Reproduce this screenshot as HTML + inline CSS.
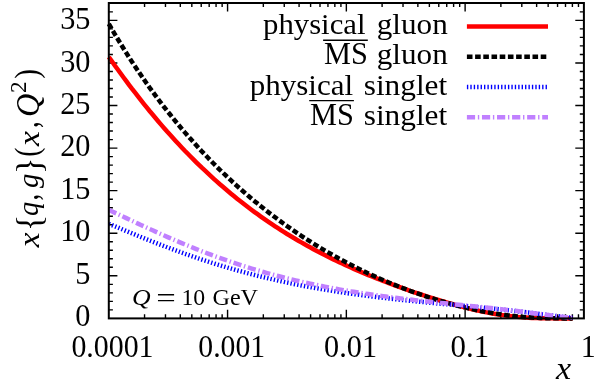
<!DOCTYPE html>
<html><head><meta charset="utf-8"><title>plot</title>
<style>html,body{margin:0;padding:0;background:#fff;}svg{display:block;will-change:transform;}</style>
</head><body>
<svg width="598" height="382" viewBox="0 0 598 382">
<rect x="0" y="0" width="598" height="382" fill="#ffffff"/>
<path d="M144.55,318.4v-4.1M144.55,3.0v4.1M165.47,318.4v-4.1M165.47,3.0v4.1M180.31,318.4v-4.1M180.31,3.0v4.1M191.82,318.4v-4.1M191.82,3.0v4.1M201.22,318.4v-4.1M201.22,3.0v4.1M209.18,318.4v-4.1M209.18,3.0v4.1M216.06,318.4v-4.1M216.06,3.0v4.1M222.14,318.4v-4.1M222.14,3.0v4.1M227.57,318.4v-8.6M227.57,3.0v8.6M263.33,318.4v-4.1M263.33,3.0v4.1M284.25,318.4v-4.1M284.25,3.0v4.1M299.08,318.4v-4.1M299.08,3.0v4.1M310.60,318.4v-4.1M310.60,3.0v4.1M320.00,318.4v-4.1M320.00,3.0v4.1M327.95,318.4v-4.1M327.95,3.0v4.1M334.84,318.4v-4.1M334.84,3.0v4.1M340.92,318.4v-4.1M340.92,3.0v4.1M346.35,318.4v-8.6M346.35,3.0v8.6M382.10,318.4v-4.1M382.10,3.0v4.1M403.02,318.4v-4.1M403.02,3.0v4.1M417.86,318.4v-4.1M417.86,3.0v4.1M429.37,318.4v-4.1M429.37,3.0v4.1M438.77,318.4v-4.1M438.77,3.0v4.1M446.73,318.4v-4.1M446.73,3.0v4.1M453.61,318.4v-4.1M453.61,3.0v4.1M459.69,318.4v-4.1M459.69,3.0v4.1M465.12,318.4v-8.6M465.12,3.0v8.6M500.88,318.4v-4.1M500.88,3.0v4.1M521.80,318.4v-4.1M521.80,3.0v4.1M536.63,318.4v-4.1M536.63,3.0v4.1M548.15,318.4v-4.1M548.15,3.0v4.1M557.55,318.4v-4.1M557.55,3.0v4.1M565.50,318.4v-4.1M565.50,3.0v4.1M572.39,318.4v-4.1M572.39,3.0v4.1M578.47,318.4v-4.1M578.47,3.0v4.1M108.8,309.88h4.1M583.9,309.88h-4.1M108.8,301.37h4.1M583.9,301.37h-4.1M108.8,292.85h4.1M583.9,292.85h-4.1M108.8,284.34h4.1M583.9,284.34h-4.1M108.8,275.82h8.6M583.9,275.82h-8.6M108.8,267.31h4.1M583.9,267.31h-4.1M108.8,258.79h4.1M583.9,258.79h-4.1M108.8,250.28h4.1M583.9,250.28h-4.1M108.8,241.76h4.1M583.9,241.76h-4.1M108.8,233.25h8.6M583.9,233.25h-8.6M108.8,224.73h4.1M583.9,224.73h-4.1M108.8,216.22h4.1M583.9,216.22h-4.1M108.8,207.70h4.1M583.9,207.70h-4.1M108.8,199.19h4.1M583.9,199.19h-4.1M108.8,190.67h8.6M583.9,190.67h-8.6M108.8,182.16h4.1M583.9,182.16h-4.1M108.8,173.64h4.1M583.9,173.64h-4.1M108.8,165.13h4.1M583.9,165.13h-4.1M108.8,156.61h4.1M583.9,156.61h-4.1M108.8,148.10h8.6M583.9,148.10h-8.6M108.8,139.58h4.1M583.9,139.58h-4.1M108.8,131.07h4.1M583.9,131.07h-4.1M108.8,122.55h4.1M583.9,122.55h-4.1M108.8,114.04h4.1M583.9,114.04h-4.1M108.8,105.52h8.6M583.9,105.52h-8.6M108.8,97.01h4.1M583.9,97.01h-4.1M108.8,88.49h4.1M583.9,88.49h-4.1M108.8,79.98h4.1M583.9,79.98h-4.1M108.8,71.46h4.1M583.9,71.46h-4.1M108.8,62.95h8.6M583.9,62.95h-8.6M108.8,54.43h4.1M583.9,54.43h-4.1M108.8,45.92h4.1M583.9,45.92h-4.1M108.8,37.40h4.1M583.9,37.40h-4.1M108.8,28.89h4.1M583.9,28.89h-4.1M108.8,20.37h8.6M583.9,20.37h-8.6M108.8,11.86h4.1M583.9,11.86h-4.1M108.8,3.34h4.1M583.9,3.34h-4.1" stroke="#000" stroke-width="1.4" fill="none"/>
<path d="M108.8,56.92 L111.7,61.08 L114.6,65.19 L117.6,69.26 L120.5,73.29 L123.4,77.26 L126.3,81.20 L129.2,85.08 L132.1,88.93 L135.1,92.72 L138.0,96.47 L140.9,100.18 L143.8,103.84 L146.7,107.46 L149.6,111.03 L152.6,114.56 L155.5,118.04 L158.4,121.48 L161.3,124.88 L164.2,128.23 L167.1,131.54 L170.1,134.80 L173.0,138.02 L175.9,141.20 L178.8,144.34 L181.7,147.44 L184.6,150.49 L187.6,153.50 L190.5,156.47 L193.4,159.40 L196.3,162.29 L199.2,165.14 L202.1,167.95 L205.1,170.71 L208.0,173.44 L210.9,176.13 L213.8,178.79 L216.7,181.40 L219.6,183.98 L222.6,186.52 L225.5,189.02 L228.4,191.48 L231.3,193.91 L234.2,196.31 L237.1,198.66 L240.1,200.99 L243.0,203.27 L245.9,205.53 L248.8,207.75 L251.7,209.93 L254.6,212.09 L257.6,214.21 L260.5,216.30 L263.4,218.35 L266.3,220.38 L269.2,222.37 L272.2,224.34 L275.1,226.27 L278.0,228.18 L280.9,230.06 L283.8,231.90 L286.7,233.72 L289.7,235.51 L292.6,237.28 L295.5,239.02 L298.4,240.73 L301.3,242.41 L304.2,244.07 L307.2,245.71 L310.1,247.32 L313.0,248.91 L315.9,250.47 L318.8,252.01 L321.7,253.53 L324.7,255.02 L327.6,256.49 L330.5,257.94 L333.4,259.37 L336.3,260.78 L339.2,262.17 L342.2,263.54 L345.1,264.89 L348.0,266.23 L350.9,267.54 L353.8,268.83 L356.7,270.11 L359.7,271.37 L362.6,272.62 L365.5,273.84 L368.4,275.05 L371.3,276.25 L374.2,277.43 L377.2,278.60 L380.1,279.75 L383.0,280.88 L385.9,282.00 L388.8,283.11 L391.7,284.21 L394.7,285.29 L397.6,286.36 L400.5,287.41 L403.4,288.46 L406.3,289.49 L409.2,290.51 L412.2,291.51 L415.1,292.51 L418.0,293.49 L420.9,294.46 L423.8,295.41 L426.8,296.36 L429.7,297.29 L432.6,298.21 L435.5,299.12 L438.4,300.01 L441.3,300.89 L444.3,301.76 L447.2,302.61 L450.1,303.44 L453.0,304.27 L455.9,305.07 L458.8,305.86 L461.8,306.63 L464.7,307.39 L467.6,308.12 L470.5,308.84 L473.4,309.53 L476.3,310.20 L479.3,310.85 L482.2,311.48 L485.1,312.08 L488.0,312.66 L490.9,313.21 L493.8,313.73 L496.8,314.23 L499.7,314.70 L502.6,315.14 L505.5,315.54 L508.4,315.92 L511.3,316.27 L514.3,316.58 L517.2,316.87 L520.1,317.13 L523.0,317.36 L525.9,317.56 L528.8,317.73 L531.8,317.88 L534.7,318.00 L537.6,318.10 L540.5,318.18 L543.4,318.25 L546.3,318.30 L549.3,318.33 L552.2,318.36 L555.1,318.38 L558.0,318.39 L560.9,318.39 L563.8,318.40 L566.8,318.40 L569.7,318.40 L572.6,318.40" stroke="#ff0000" stroke-width="4.5" fill="none"/>
<path d="M108.8,23.86 L111.7,28.91 L114.6,33.87 L117.6,38.76 L120.5,43.56 L123.4,48.28 L126.3,52.93 L129.2,57.50 L132.1,62.00 L135.1,66.43 L138.0,70.79 L140.9,75.08 L143.8,79.30 L146.7,83.46 L149.6,87.56 L152.6,91.59 L155.5,95.56 L158.4,99.47 L161.3,103.32 L164.2,107.12 L167.1,110.85 L170.1,114.54 L173.0,118.17 L175.9,121.74 L178.8,125.26 L181.7,128.73 L184.6,132.15 L187.6,135.53 L190.5,138.85 L193.4,142.12 L196.3,145.35 L199.2,148.53 L202.1,151.67 L205.1,154.76 L208.0,157.81 L210.9,160.82 L213.8,163.78 L216.7,166.70 L219.6,169.58 L222.6,172.42 L225.5,175.23 L228.4,177.99 L231.3,180.71 L234.2,183.40 L237.1,186.05 L240.1,188.66 L243.0,191.23 L245.9,193.77 L248.8,196.28 L251.7,198.74 L254.6,201.18 L257.6,203.58 L260.5,205.95 L263.4,208.28 L266.3,210.59 L269.2,212.86 L272.2,215.09 L275.1,217.30 L278.0,219.48 L280.9,221.62 L283.8,223.74 L286.7,225.83 L289.7,227.88 L292.6,229.91 L295.5,231.91 L298.4,233.88 L301.3,235.82 L304.2,237.74 L307.2,239.62 L310.1,241.48 L313.0,243.32 L315.9,245.12 L318.8,246.90 L321.7,248.66 L324.7,250.39 L327.6,252.09 L330.5,253.77 L333.4,255.42 L336.3,257.05 L339.2,258.66 L342.2,260.24 L345.1,261.80 L348.0,263.33 L350.9,264.84 L353.8,266.33 L356.7,267.79 L359.7,269.23 L362.6,270.65 L365.5,272.05 L368.4,273.43 L371.3,274.78 L374.2,276.11 L377.2,277.42 L380.1,278.71 L383.0,279.98 L385.9,281.23 L388.8,282.46 L391.7,283.67 L394.7,284.85 L397.6,286.02 L400.5,287.17 L403.4,288.29 L406.3,289.40 L409.2,290.49 L412.2,291.55 L415.1,292.60 L418.0,293.63 L420.9,294.64 L423.8,295.63 L426.8,296.60 L429.7,297.55 L432.6,298.48 L435.5,299.39 L438.4,300.28 L441.3,301.16 L444.3,302.01 L447.2,302.84 L450.1,303.65 L453.0,304.45 L455.9,305.22 L458.8,305.97 L461.8,306.71 L464.7,307.42 L467.6,308.11 L470.5,308.78 L473.4,309.42 L476.3,310.05 L479.3,310.65 L482.2,311.23 L485.1,311.79 L488.0,312.33 L490.9,312.84 L493.8,313.33 L496.8,313.80 L499.7,314.24 L502.6,314.66 L505.5,315.06 L508.4,315.43 L511.3,315.77 L514.3,316.09 L517.2,316.39 L520.1,316.67 L523.0,316.92 L525.9,317.14 L528.8,317.35 L531.8,317.53 L534.7,317.69 L537.6,317.83 L540.5,317.95 L543.4,318.06 L546.3,318.14 L549.3,318.21 L552.2,318.27 L555.1,318.31 L558.0,318.34 L560.9,318.36 L563.8,318.38 L566.8,318.39 L569.7,318.40 L572.6,318.40" stroke="#000000" stroke-width="4.5" fill="none" stroke-dasharray="5.60,2.60"/>
<path d="M108.8,223.73 L111.7,224.95 L114.6,226.17 L117.6,227.39 L120.5,228.60 L123.4,229.81 L126.3,231.02 L129.2,232.22 L132.1,233.42 L135.1,234.61 L138.0,235.80 L140.9,236.98 L143.8,238.15 L146.7,239.31 L149.6,240.47 L152.6,241.62 L155.5,242.76 L158.4,243.89 L161.3,245.02 L164.2,246.13 L167.1,247.23 L170.1,248.33 L173.0,249.41 L175.9,250.48 L178.8,251.55 L181.7,252.60 L184.6,253.64 L187.6,254.67 L190.5,255.69 L193.4,256.69 L196.3,257.69 L199.2,258.67 L202.1,259.64 L205.1,260.60 L208.0,261.54 L210.9,262.48 L213.8,263.40 L216.7,264.31 L219.6,265.20 L222.6,266.09 L225.5,266.96 L228.4,267.82 L231.3,268.67 L234.2,269.50 L237.1,270.33 L240.1,271.14 L243.0,271.93 L245.9,272.72 L248.8,273.49 L251.7,274.25 L254.6,275.00 L257.6,275.74 L260.5,276.47 L263.4,277.18 L266.3,277.88 L269.2,278.57 L272.2,279.25 L275.1,279.92 L278.0,280.57 L280.9,281.21 L283.8,281.85 L286.7,282.47 L289.7,283.08 L292.6,283.68 L295.5,284.27 L298.4,284.85 L301.3,285.42 L304.2,285.98 L307.2,286.53 L310.1,287.07 L313.0,287.60 L315.9,288.12 L318.8,288.63 L321.7,289.13 L324.7,289.62 L327.6,290.10 L330.5,290.58 L333.4,291.04 L336.3,291.50 L339.2,291.95 L342.2,292.39 L345.1,292.82 L348.0,293.25 L350.9,293.66 L353.8,294.07 L356.7,294.47 L359.7,294.87 L362.6,295.26 L365.5,295.64 L368.4,296.01 L371.3,296.38 L374.2,296.74 L377.2,297.10 L380.1,297.45 L383.0,297.79 L385.9,298.13 L388.8,298.46 L391.7,298.79 L394.7,299.11 L397.6,299.43 L400.5,299.75 L403.4,300.05 L406.3,300.36 L409.2,300.66 L412.2,300.96 L415.1,301.25 L418.0,301.54 L420.9,301.83 L423.8,302.11 L426.8,302.39 L429.7,302.67 L432.6,302.95 L435.5,303.22 L438.4,303.50 L441.3,303.77 L444.3,304.04 L447.2,304.31 L450.1,304.58 L453.0,304.84 L455.9,305.11 L458.8,305.38 L461.8,305.65 L464.7,305.92 L467.6,306.19 L470.5,306.46 L473.4,306.73 L476.3,307.01 L479.3,307.28 L482.2,307.56 L485.1,307.85 L488.0,308.13 L490.9,308.42 L493.8,308.71 L496.8,309.01 L499.7,309.31 L502.6,309.61 L505.5,309.93 L508.4,310.24 L511.3,310.56 L514.3,310.89 L517.2,311.22 L520.1,311.56 L523.0,311.90 L525.9,312.25 L528.8,312.60 L531.8,312.96 L534.7,313.32 L537.6,313.69 L540.5,314.06 L543.4,314.44 L546.3,314.81 L549.3,315.19 L552.2,315.56 L555.1,315.93 L558.0,316.29 L560.9,316.64 L563.8,316.98 L566.8,317.29 L569.7,317.59 L572.6,317.85" stroke="#0000ff" stroke-width="4.5" fill="none" stroke-dasharray="1.37,2.05"/>
<path d="M108.8,209.86 L111.7,211.24 L114.6,212.61 L117.6,213.99 L120.5,215.37 L123.4,216.74 L126.3,218.12 L129.2,219.49 L132.1,220.86 L135.1,222.23 L138.0,223.59 L140.9,224.94 L143.8,226.29 L146.7,227.64 L149.6,228.97 L152.6,230.30 L155.5,231.62 L158.4,232.94 L161.3,234.24 L164.2,235.53 L167.1,236.82 L170.1,238.09 L173.0,239.36 L175.9,240.61 L178.8,241.85 L181.7,243.08 L184.6,244.29 L187.6,245.50 L190.5,246.69 L193.4,247.87 L196.3,249.04 L199.2,250.19 L202.1,251.33 L205.1,252.46 L208.0,253.57 L210.9,254.67 L213.8,255.75 L216.7,256.82 L219.6,257.88 L222.6,258.92 L225.5,259.94 L228.4,260.96 L231.3,261.96 L234.2,262.94 L237.1,263.91 L240.1,264.86 L243.0,265.81 L245.9,266.73 L248.8,267.64 L251.7,268.54 L254.6,269.42 L257.6,270.29 L260.5,271.15 L263.4,271.99 L266.3,272.82 L269.2,273.63 L272.2,274.43 L275.1,275.22 L278.0,275.99 L280.9,276.75 L283.8,277.49 L286.7,278.22 L289.7,278.94 L292.6,279.65 L295.5,280.35 L298.4,281.03 L301.3,281.70 L304.2,282.35 L307.2,283.00 L310.1,283.63 L313.0,284.25 L315.9,284.86 L318.8,285.46 L321.7,286.05 L324.7,286.62 L327.6,287.19 L330.5,287.75 L333.4,288.29 L336.3,288.82 L339.2,289.35 L342.2,289.86 L345.1,290.37 L348.0,290.86 L350.9,291.35 L353.8,291.83 L356.7,292.29 L359.7,292.75 L362.6,293.20 L365.5,293.65 L368.4,294.08 L371.3,294.51 L374.2,294.93 L377.2,295.34 L380.1,295.75 L383.0,296.14 L385.9,296.53 L388.8,296.92 L391.7,297.30 L394.7,297.67 L397.6,298.03 L400.5,298.39 L403.4,298.75 L406.3,299.10 L409.2,299.44 L412.2,299.78 L415.1,300.12 L418.0,300.45 L420.9,300.78 L423.8,301.10 L426.8,301.42 L429.7,301.73 L432.6,302.05 L435.5,302.36 L438.4,302.66 L441.3,302.97 L444.3,303.27 L447.2,303.58 L450.1,303.88 L453.0,304.18 L455.9,304.47 L458.8,304.77 L461.8,305.07 L464.7,305.37 L467.6,305.66 L470.5,305.96 L473.4,306.26 L476.3,306.56 L479.3,306.87 L482.2,307.17 L485.1,307.48 L488.0,307.79 L490.9,308.10 L493.8,308.41 L496.8,308.73 L499.7,309.05 L502.6,309.38 L505.5,309.71 L508.4,310.05 L511.3,310.39 L514.3,310.73 L517.2,311.08 L520.1,311.43 L523.0,311.79 L525.9,312.16 L528.8,312.53 L531.8,312.90 L534.7,313.28 L537.6,313.66 L540.5,314.04 L543.4,314.42 L546.3,314.81 L549.3,315.19 L552.2,315.57 L555.1,315.94 L558.0,316.31 L560.9,316.66 L563.8,317.00 L566.8,317.31 L569.7,317.61 L572.6,317.87" stroke="#c080ff" stroke-width="4.5" fill="none" stroke-dasharray="8.21,2.74,1.37,2.74"/>
<rect x="108.8" y="3.0" width="475.09999999999997" height="315.4" fill="none" stroke="#000" stroke-width="2"/>
<path d="M466.9,26.55H548.0" stroke="#ff0000" stroke-width="4.5" fill="none"/>
<path d="M466.9,56.85H548.0" stroke="#000000" stroke-width="4.5" fill="none" stroke-dasharray="5.60,2.60"/>
<path d="M466.9,87.1H548.0" stroke="#0000ff" stroke-width="4.5" fill="none" stroke-dasharray="1.37,2.05"/>
<path d="M466.9,117.25H548.0" stroke="#c080ff" stroke-width="4.5" fill="none" stroke-dasharray="8.21,2.74,1.37,2.74"/>
<g font-family="'Liberation Serif', serif" fill="#000">
<text transform="matrix(0.29896 0 0 0.31618 71.38 356.83)" font-size="100">0.0001</text>
<text transform="matrix(0.29733 0 0 0.31618 198.29 356.83)" font-size="100">0.001</text>
<text transform="matrix(0.30257 0 0 0.31618 324.07 356.83)" font-size="100">0.01</text>
<text transform="matrix(0.30889 0 0 0.31618 450.54 356.83)" font-size="100">0.1</text>
<text transform="matrix(0.30071 0 0 0.30606 580.87 356.80)" font-size="100">1</text>
<text transform="matrix(0.30300 0 0 0.31704 75.35 325.93)" font-size="100">0</text>
<text transform="matrix(0.30300 0 0 0.32180 75.35 283.54)" font-size="100">5</text>
<text transform="matrix(0.30300 0 0 0.31704 60.20 241.15)" font-size="100">10</text>
<text transform="matrix(0.30300 0 0 0.31940 60.20 198.76)" font-size="100">15</text>
<text transform="matrix(0.30300 0 0 0.31704 60.20 156.37)" font-size="100">20</text>
<text transform="matrix(0.30300 0 0 0.31822 60.20 113.98)" font-size="100">25</text>
<text transform="matrix(0.30300 0 0 0.31704 60.20 71.59)" font-size="100">30</text>
<text transform="matrix(0.30300 0 0 0.31822 60.20 29.20)" font-size="100">35</text>
<text transform="matrix(0.34000 0 0 0.30652 556.12 379.30)" font-size="100" font-style="italic">x</text>
<text transform="matrix(0.30751 0 0 0.30000 263.04 34.10)" font-size="100">physical</text>
<text transform="matrix(0.31171 0 0 0.30000 376.78 34.10)" font-size="100">gluon</text>
<text transform="matrix(0.30332 0 0 0.32000 323.99 64.40)" font-size="100">MS</text>
<text transform="matrix(0.31171 0 0 0.30000 376.78 64.40)" font-size="100">gluon</text>
<text transform="matrix(0.31024 0 0 0.30000 249.73 94.50)" font-size="100">physical</text>
<text transform="matrix(0.31306 0 0 0.30000 363.75 94.50)" font-size="100">singlet</text>
<text transform="matrix(0.30332 0 0 0.32000 310.09 124.70)" font-size="100">MS</text>
<text transform="matrix(0.31306 0 0 0.30000 363.75 124.70)" font-size="100">singlet</text>
<path d="M323.1,40.2H367.8M309.2,100.6H353.9" stroke="#000" stroke-width="1.4" fill="none"/>
<text transform="matrix(0.25792 0 0 0.23152 131.98 304.74)" font-size="100" font-style="italic">Q</text>
<text transform="matrix(0.34624 0 0 0.26400 156.37 307.28)" font-size="100">=</text>
<text transform="matrix(0.23771 0 0 0.22222 181.42 304.78)" font-size="100">10</text>
<text transform="matrix(0.24196 0 0 0.23616 212.43 304.65)" font-size="100">GeV</text>
<g transform="translate(38.6,250.0) rotate(-90)">
<text transform="matrix(0.33333 0 0 0.30435 2.82 0.00)" font-size="100" font-style="italic">x</text>
<text transform="matrix(0.34000 0 0 0.36627 18.94 2.06)" font-size="100">{</text>
<text transform="matrix(0.28249 0 0 0.28571 33.98 -0.57)" font-size="100" font-style="italic">q</text>
<text transform="matrix(0.26667 0 0 0.36117 49.50 -0.30)" font-size="100">,</text>
<text transform="matrix(0.28723 0 0 0.28571 61.90 -0.57)" font-size="100" font-style="italic">g</text>
<text transform="matrix(0.34333 0 0 0.36627 76.11 2.06)" font-size="100">}</text>
<text transform="matrix(0.27451 0 0 0.33499 93.16 -0.12)" font-size="100">(</text>
<text transform="matrix(0.33556 0 0 0.30435 104.12 0.00)" font-size="100" font-style="italic">x</text>
<text transform="matrix(0.26667 0 0 0.34951 122.00 -0.12)" font-size="100">,</text>
<text transform="matrix(0.32278 0 0 0.32727 133.12 -0.02)" font-size="100" font-style="italic">Q</text>
<text transform="matrix(0.23250 0 0 0.23396 157.05 -12.30)" font-size="100">2</text>
<text transform="matrix(0.29515 0 0 0.33499 171.24 -0.12)" font-size="100">)</text>
</g>
</g>
</svg>
</body></html>
